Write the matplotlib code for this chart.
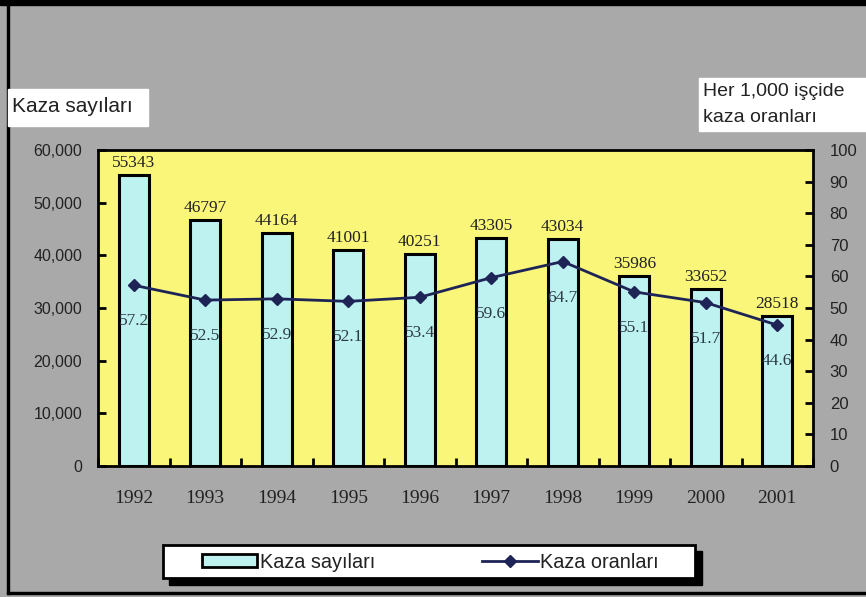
import matplotlib
matplotlib.use('Agg')
import matplotlib.pyplot as plt
from matplotlib.patches import Rectangle, Patch
from matplotlib.lines import Line2D
from matplotlib.ticker import FuncFormatter, MultipleLocator
import numpy as np

####################DATA#########################
years = ['1992', '1993', '1994', '1995', '1996', '1997', '1998', '1999', '2000', '2001']
kaza_sayilari = [55343, 46797, 44164, 41001, 40251, 43305, 43034, 35986, 33652, 28518]
kaza_oranlari = [57.2, 52.5, 52.9, 52.1, 53.4, 59.6, 64.7, 55.1, 51.7, 44.6]
##################END DATA#######################

GREY = '#a9a9a9'
YELLOW = '#f9f67a'
CYAN = '#bdf2f1'
NAVY = '#1f2456'
SANS = 'Liberation Sans'
SERIF = 'Liberation Serif'

W, H = 866, 597
fig = plt.figure(figsize=(W / 100, H / 100), dpi=100)
fig.patch.set_facecolor(GREY)

def fx(px):
	return px / W

def fy(py):
	return 1 - py / H

# frame lines of the screenshot
fig.patches.append(Rectangle((0, fy(5)), 1, 5 / H, transform=fig.transFigure, color='black', zorder=0))
fig.patches.append(Rectangle((fx(7), fy(594)), 2 / W, 589 / H, transform=fig.transFigure, color='black', zorder=0))
fig.patches.append(Rectangle((fx(7), fy(594)), 1, 2 / H, transform=fig.transFigure, color='black', zorder=0))

ax = fig.add_axes([fx(98), fy(466), fx(813) - fx(98), fy(150) - fy(466)])
ax.set_facecolor(YELLOW)
for sp in ax.spines.values():
	sp.set_linewidth(2)
	sp.set_color('black')

x = np.arange(len(years))
ax.bar(x, kaza_sayilari, width=0.42, color=CYAN, edgecolor='black', linewidth=2.2, zorder=2)
ax.set_xlim(-0.5, len(years) - 0.5)
ax.set_ylim(0, 60000)
ax.yaxis.set_major_locator(MultipleLocator(10000))
ax.yaxis.set_major_formatter(FuncFormatter(lambda v, p: '{:,.0f}'.format(v)))
ax.tick_params(axis='y', direction='in', length=6, width=2, pad=11.5, labelsize=11.5, labelcolor='#222222')
for lb in ax.get_yticklabels():
	lb.set_fontfamily(SANS)
ax.set_xticks(x)
ax.set_xticklabels(years, fontfamily=SERIF, fontsize=14, color='#222222')
ax.set_xticks(np.arange(len(years) + 1) - 0.5, minor=True)
ax.tick_params(axis='x', which='major', length=0, pad=17)
ax.tick_params(axis='x', which='minor', direction='in', length=6, width=2)

for xi, v in zip(x, kaza_sayilari):
	ax.annotate(str(v), (xi, v), xytext=(0, 4), textcoords='offset pixels', ha='center', va='bottom',
		fontfamily=SERIF, fontsize=12.5, color='#222222', zorder=5)

ax2 = ax.twinx()
ax2.set_ylim(0, 100)
ax2.yaxis.set_major_locator(MultipleLocator(10))
ax2.tick_params(axis='y', direction='in', length=6, width=2, pad=12, labelsize=12, labelcolor='#222222')
for lb in ax2.get_yticklabels():
	lb.set_fontfamily(SANS)
for sp in ax2.spines.values():
	sp.set_visible(False)
ax2.plot(x, kaza_oranlari, color=NAVY, linewidth=2, marker='D', markersize=6, zorder=4)
for xi, v in zip(x, kaza_oranlari):
	ax2.annotate(str(v), (xi, v), xytext=(0, -36), textcoords='offset pixels', ha='center', va='center',
		fontfamily=SERIF, fontsize=12.5, color='#2c3a48', zorder=5)

# axis titles in white boxes
fig.patches.append(Rectangle((fx(8), fy(126)), 140 / W, 37 / H, transform=fig.transFigure, color='white', zorder=1))
fig.text(fx(12), fy(107), 'Kaza sayıları', fontfamily=SANS, fontsize=15, color='#222222', va='center', ha='left')
fig.patches.append(Rectangle((fx(699), fy(131)), 167 / W, 53 / H, transform=fig.transFigure, color='white', zorder=1))
fig.text(fx(703), fy(92), 'Her 1,000 işçide', fontfamily=SANS, fontsize=14, color='#222222', va='center', ha='left')
fig.text(fx(703), fy(118), 'kaza oranları', fontfamily=SANS, fontsize=14, color='#222222', va='center', ha='left')

# legend box with black shadow
fig.patches.append(Rectangle((fx(169), fy(585)), 533 / W, 34 / H, transform=fig.transFigure, color='black', zorder=1))
fig.patches.append(Rectangle((fx(163), fy(578)), 532 / W, 33 / H, transform=fig.transFigure,
	facecolor='white', edgecolor='black', linewidth=2, zorder=2))
handles = [Patch(facecolor=CYAN, edgecolor='black', linewidth=2),
	Line2D([0], [0], color=NAVY, linewidth=2, marker='D', markersize=6)]
leg = fig.legend(handles, ['Kaza sayıları', 'Kaza oranları'], loc='center left', bbox_to_anchor=(fx(184), fy(562)),
	ncol=2, frameon=False, prop={'family': SANS, 'size': 14.3}, handlelength=2.8, handletextpad=0.12,
	columnspacing=5.4, handleheight=0.6, borderpad=0.4)
for t in leg.get_texts():
	t.set_color('#222222')
leg.set_zorder(3)

plt.savefig('out.png', dpi=100, facecolor=fig.get_facecolor())
